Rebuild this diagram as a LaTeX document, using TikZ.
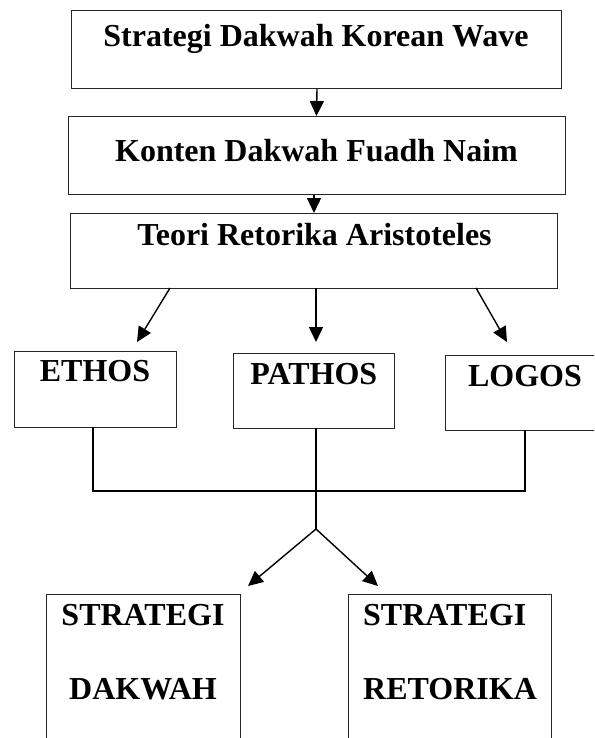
\documentclass[tikz,border=0pt]{standalone}
\usepackage{fontspec}
\setmainfont{Liberation Serif}
\usetikzlibrary{arrows.meta,calc}
\begin{document}
\begin{tikzpicture}[x=1pt,y=-1pt,
  box/.style={draw=black!85, line width=1pt, inner sep=0pt, anchor=north west},
  lbl/.style={font=\bfseries\fontsize{32}{38}\selectfont, inner sep=0pt, anchor=base},
  conn/.style={line width=1.4pt, black},
  arr/.style={conn, -{Triangle[length=15pt,width=14pt]}}]
\fill[white] (0,0) rectangle (594,738);
\useasboundingbox (0,0) rectangle (594,738);
\clip (0,0) rectangle (594,738);
% boxes
\node[box, minimum width=490pt, minimum height=78pt] (b1) at (71,10) {};
\node[box, minimum width=497pt, minimum height=78pt] (b2) at (68,116) {};
\node[box, minimum width=487pt, minimum height=75pt] (b3) at (70,213) {};
\node[box, minimum width=162pt, minimum height=76pt] (eth) at (14,351) {};
\node[box, minimum width=161pt, minimum height=75pt] (pat) at (233,353) {};
\node[box, minimum width=160pt, minimum height=75pt] (log) at (445,355) {};
\node[box, minimum width=194pt, minimum height=170pt] (sd) at (46,594) {};
\node[box, minimum width=203pt, minimum height=170pt] (sr) at (348,594) {};
% labels
\node[lbl] (t1) at (316,46.5) {Strategi Dakwah Korean Wave};
\node[lbl] (t2) at (316.5,162) {Konten Dakwah Fuadh Naim};
\node[lbl] (t3) at (314.5,245) {Teori Retorika Aristoteles};
\node[lbl] (te) at (95,381.7) {ETHOS};
\node[lbl] (tp) at (313.8,384.3) {PATHOS};
\node[lbl] (tl) at (525,386.7) {LOGOS};
\node[lbl] (ts1) at (143,625) {STRATEGI};
\node[lbl] (ts2) at (143,699) {DAKWAH};
\node[lbl, anchor=base west] (tr1) at (363,625) {STRATEGI};
\node[lbl, anchor=base west] (tr2) at (363,699) {RETORIKA};
% connector points
\coordinate (s1) at (170,288);
\coordinate (s2) at (316,288);
\coordinate (s3) at (476,288);
\coordinate (e1) at (137,342);
\coordinate (e2) at (316,342);
\coordinate (e3) at (507,342);
\coordinate (eo) at (93,427);
\coordinate (po) at (316,428);
\coordinate (lo) at (525,430);
\coordinate (jn) at (316,529);
\coordinate (d1) at (248,586);
\coordinate (d2) at (378,586);
% connectors
\draw[arr] (b2.north |- b1.south) -- (b2.north -| b1.south);
\draw[arr] (b3.north |- b2.south) -- (b3.north);
\draw[arr] (s1) -- (e1);
\draw[arr] (s2) -- (e2);
\draw[arr] (s3) -- (e3);
\draw[conn] (eo) -- (93,491) -- (525,491) -- (lo);
\draw[conn] (po) -- (jn);
\draw[arr] (jn) -- (d1);
\draw[arr] (jn) -- (d2);
\end{tikzpicture}
\end{document}
